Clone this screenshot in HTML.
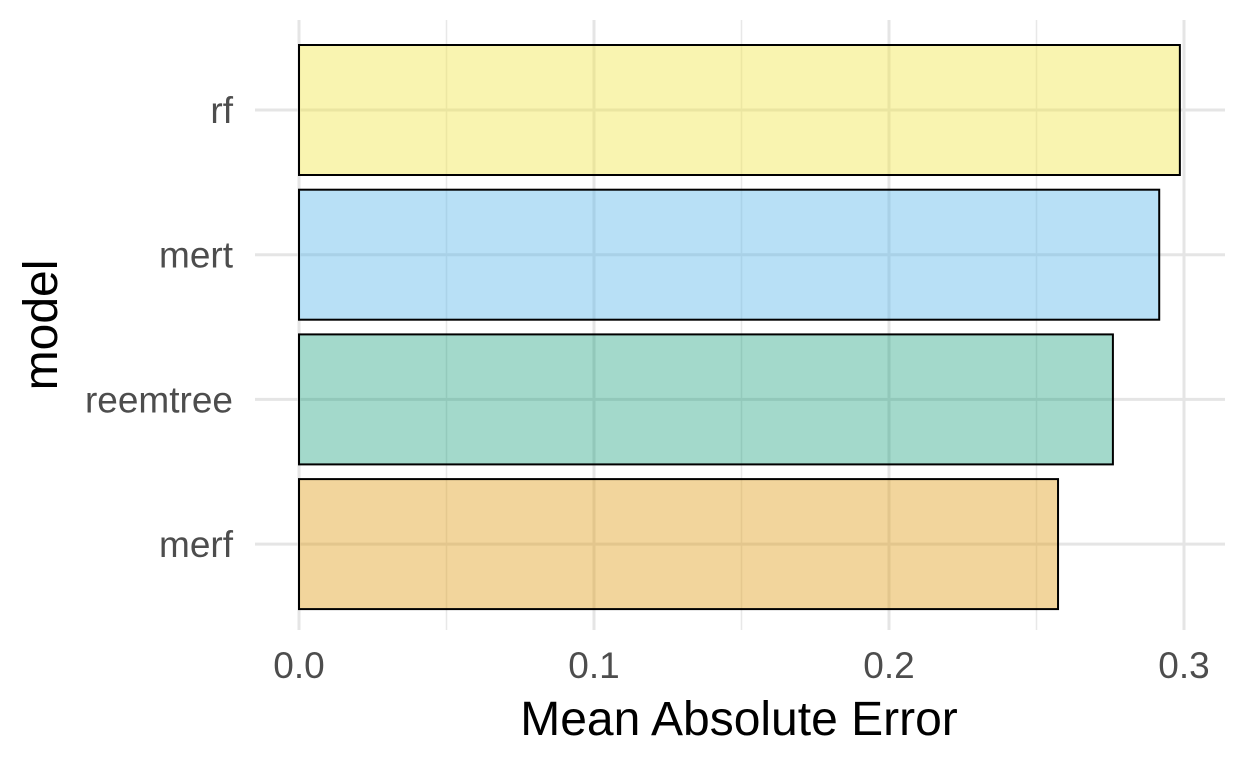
<!DOCTYPE html>
<html><head><meta charset="utf-8"><style>
html,body{margin:0;padding:0;background:#fff;}
svg text{font-family:"Liberation Sans",Arial,sans-serif;}
</style></head><body>
<svg id="chart" width="1248" height="768" xmlns="http://www.w3.org/2000/svg">
<g id="grid"></g><g id="bars"></g><g id="labels"></g>
<text x="739" y="735" font-size="48" text-anchor="middle" fill="#000">Mean Absolute Error</text>
<text transform="translate(57,325) rotate(-90)" font-size="48" text-anchor="middle" fill="#000">model</text>
</svg>
<script>
const categories = ["rf","mert","reemtree","merf"];
const values = [0.2986, 0.2916, 0.2759, 0.2573];
const colors = ["rgba(240,228,66,0.42)","rgba(86,180,233,0.42)","rgba(0,150,110,0.36)","rgba(225,155,20,0.42)"];
const xTicks = [0, 0.1, 0.2, 0.3];
const xTickLabels = ["0.0","0.1","0.2","0.3"];
const xMinor = [0.05, 0.15, 0.25];

const NS="http://www.w3.org/2000/svg";
const x = v => 299 + v*2950;
const y = i => 110 + i*144.7;
const panelL=255, panelR=1225, panelT=20, panelB=630, barH=130;
function mk(tag, attrs, parent){const e=document.createElementNS(NS,tag);for(const k in attrs)e.setAttribute(k,attrs[k]);document.getElementById(parent).appendChild(e);return e;}

xMinor.forEach(v=>{
  const l=mk("line",{x1:x(v),x2:x(v),y1:panelT,y2:panelB,stroke:"#e8e8e8","stroke-width":1.5},"grid");
  
  
});
xTicks.forEach((v,i)=>{
  const l=mk("line",{x1:x(v),x2:x(v),y1:panelT,y2:panelB,stroke:"#e5e5e5","stroke-width":3},"grid");
  
  
  const t=mk("text",{x:x(v),y:678,"font-size":37,"text-anchor":"middle",fill:"#4d4d4d"},"labels");
  t.textContent=xTickLabels[i];
  
  
});
categories.forEach((c,i)=>{
  const l=mk("line",{x1:panelL,x2:panelR,y1:y(i),y2:y(i),stroke:"#e5e5e5","stroke-width":3},"grid");
  
  
  const r=mk("rect",{x:x(0),y:y(i)-barH/2,width:x(values[i])-x(0),height:barH,fill:colors[i],stroke:"#000","stroke-width":2},"bars");
  
  
  const t=mk("text",{x:233,y:y(i)+13,"font-size":37,"text-anchor":"end",fill:"#4d4d4d"},"labels");
  t.textContent=c;
  
  
});
</script>
</body></html>
